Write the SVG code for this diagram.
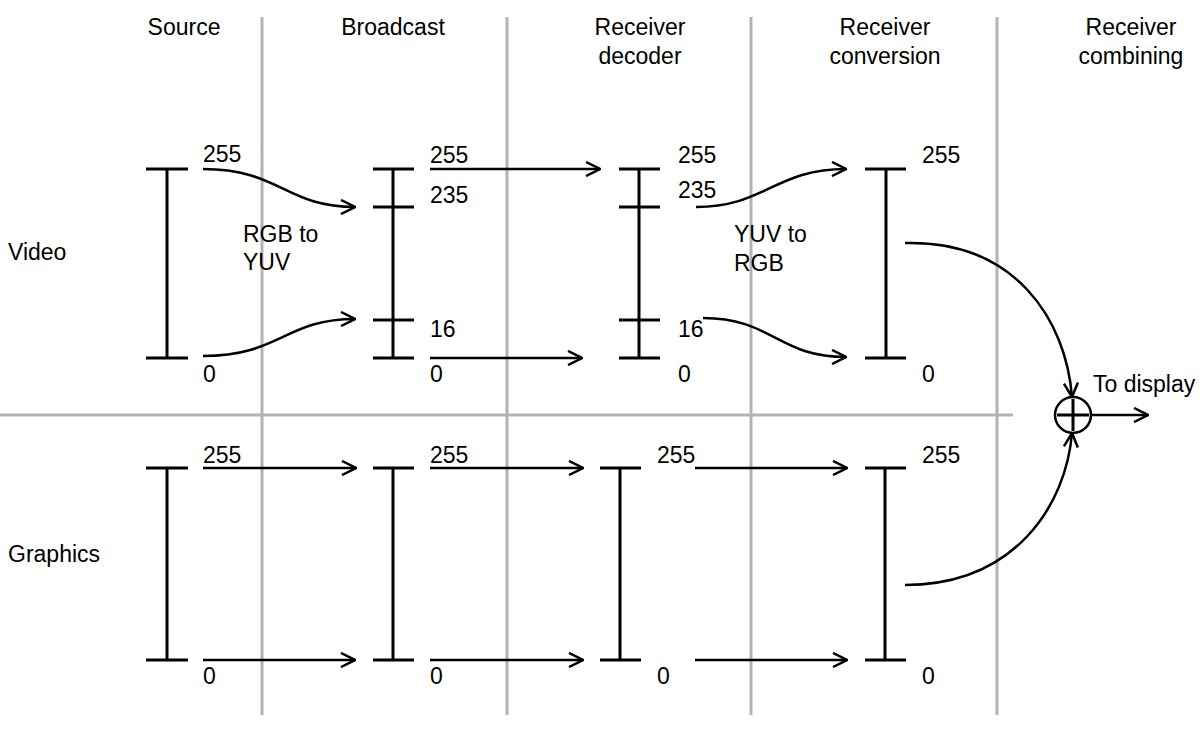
<svg xmlns="http://www.w3.org/2000/svg" width="1200" height="730" viewBox="0 0 1200 730">
<style>
text{font-family:"Liberation Sans",Arial,sans-serif;font-size:23px;fill:#000}
.hdr{text-anchor:middle}
.grid{stroke:#b3b3b3;stroke-width:3;fill:none}
.bar{stroke:#000;stroke-width:3;fill:none}
.conn{stroke:#000;stroke-width:2.5;fill:none;marker-end:url(#arr)}
</style>
<defs>
<marker id="arr" viewBox="0 0 16 16" refX="15" refY="8" markerWidth="16" markerHeight="16" markerUnits="userSpaceOnUse" orient="auto">
<path d="M1,1 L15,8 L1,15" fill="none" stroke="#000" stroke-width="2.5"/>
</marker>
</defs>
<rect width="1200" height="730" fill="#fff"/>
<g id="grid">
<line class="grid" x1="262" y1="17" x2="262" y2="715"/>
<line class="grid" x1="507" y1="17" x2="507" y2="715"/>
<line class="grid" x1="751" y1="17" x2="751" y2="715"/>
<line class="grid" x1="997" y1="17" x2="997" y2="715"/>
<line class="grid" x1="0" y1="415" x2="1013" y2="415"/>
</g>
<g id="headers">
<text class="hdr" x="184" y="35">Source</text>
<text class="hdr" x="393" y="35">Broadcast</text>
<text class="hdr" x="640" y="35">Receiver</text>
<text class="hdr" x="640" y="64">decoder</text>
<text class="hdr" x="885" y="35">Receiver</text>
<text class="hdr" x="885" y="64">conversion</text>
<text class="hdr" x="1131" y="35">Receiver</text>
<text class="hdr" x="1131" y="64">combining</text>
<text x="8" y="260">Video</text>
<text x="8" y="562">Graphics</text>
</g>
<g id="video-source">
<path class="bar" d="M167,169 V358 M146,169 H188 M146,358 H188"/>
<text x="203" y="162">255</text>
<text x="203" y="382">0</text>
<text x="243" y="242">RGB to</text>
<text x="243" y="270">YUV</text>
</g>
<g id="video-broadcast">
<path class="bar" d="M393,169 V358 M373,169 H414 M373,207 H414 M373,320 H414 M373,358 H414"/>
<text x="430" y="163">255</text>
<text x="430" y="203">235</text>
<text x="430" y="337">16</text>
<text x="430" y="382">0</text>
</g>
<g id="video-decoder">
<path class="bar" d="M639,169 V358 M619,169 H660 M619,207 H660 M619,320 H660 M619,358 H660"/>
<text x="678" y="163">255</text>
<text x="678" y="198">235</text>
<text x="678" y="337">16</text>
<text x="678" y="382">0</text>
<text x="734" y="242">YUV to</text>
<text x="734" y="271">RGB</text>
</g>
<g id="video-conversion">
<path class="bar" d="M886,169 V358 M865,169 H906 M865,358 H906"/>
<text x="922" y="163">255</text>
<text x="922" y="382">0</text>
</g>
<g id="graphics-source">
<path class="bar" d="M167,468 V660 M146,468 H188 M146,660 H188"/>
<text x="203" y="463">255</text>
<text x="203" y="684">0</text>
</g>
<g id="graphics-broadcast">
<path class="bar" d="M393,468 V660 M373,468 H414 M373,660 H414"/>
<text x="430" y="463">255</text>
<text x="430" y="684">0</text>
</g>
<g id="graphics-decoder">
<path class="bar" d="M620,468 V660 M600,468 H641 M600,660 H641"/>
<text x="657" y="463">255</text>
<text x="657" y="684">0</text>
</g>
<g id="graphics-conversion">
<path class="bar" d="M885,468 V660 M865,468 H906 M865,660 H906"/>
<text x="922" y="463">255</text>
<text x="922" y="684">0</text>
</g>
<g id="combiner">
<circle cx="1073" cy="415" r="18" fill="#fff" stroke="#000" stroke-width="2.5"/>
<path d="M1057,415 H1089 M1073,399 V431" stroke="#000" stroke-width="3"/>
<text x="1093" y="392">To display</text>
</g>
<g id="connectors">
<path class="conn" d="M203,169 C280,169 285,207 355,207"/>
<path class="conn" d="M203,356 C280,356 285,319 355,319"/>
<path class="conn" d="M430,169 H600"/>
<path class="conn" d="M430,358 H582"/>
<path class="conn" d="M696,207 C765,207 775,169 846,169"/>
<path class="conn" d="M703,318 C772,318 778,357 846,357"/>
<path class="conn" d="M905,243 C1015,240 1066,320 1072,397"/>
<path class="conn" d="M905,585 C1015,585 1066,505 1072,433"/>
<path class="conn" d="M1091,415 H1148"/>
<path class="conn" d="M203,468 H356"/>
<path class="conn" d="M203,660 H355"/>
<path class="conn" d="M430,468 H583"/>
<path class="conn" d="M430,660 H583"/>
<path class="conn" d="M695,468 H847"/>
<path class="conn" d="M695,660 H847"/>
</g>
</svg>
